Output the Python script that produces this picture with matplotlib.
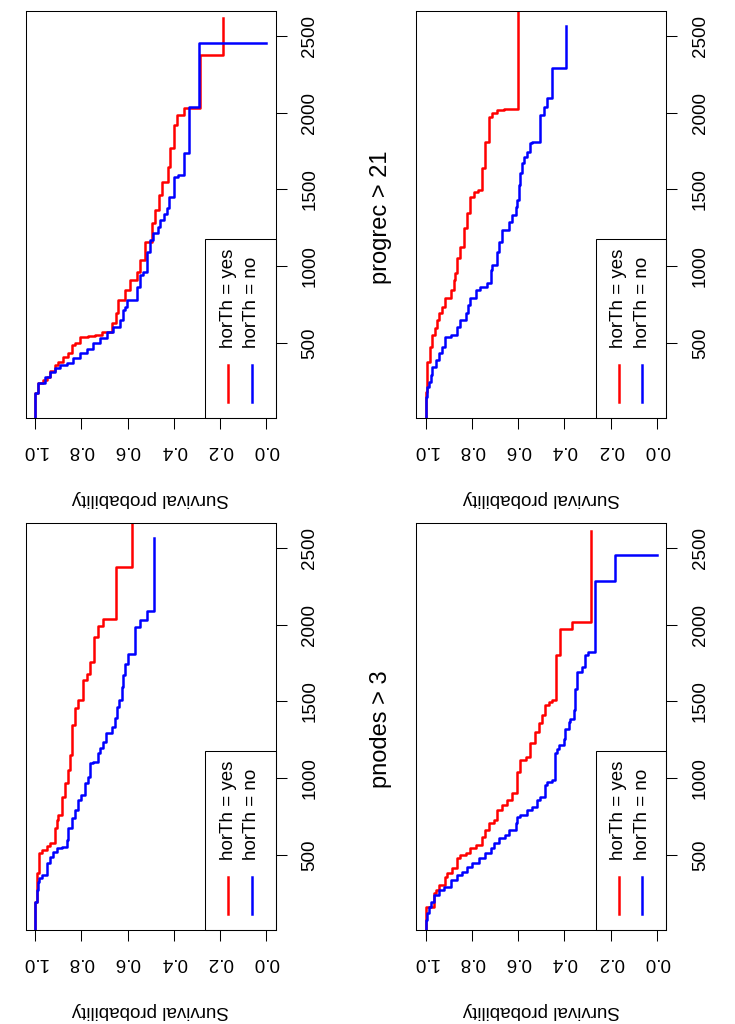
import matplotlib
matplotlib.use('Agg')
from matplotlib import pyplot as plt
from matplotlib.patches import Rectangle

plt.rcParams['font.family'] = ['Liberation Sans', 'DejaVu Sans']

# Kaplan-Meier curves: event times (days) and survival after each
# progrec <= 21
a_yes_t = [0, 175, 240, 262, 283, 320, 359, 381, 413, 435, 489, 504, 543, 549, 554, 576, 630, 695, 781, 846,
           912, 966, 1041, 1161, 1280, 1367, 1464, 1551, 1648, 1768, 1919, 1984, 2028, 2374, 2613]
a_yes_s = [1.0, 0.986, 0.964, 0.950, 0.935, 0.915, 0.899, 0.877, 0.856, 0.841, 0.827, 0.805, 0.769, 0.740, 0.712,
           0.668, 0.650, 0.640, 0.611, 0.589, 0.560, 0.546, 0.524, 0.495, 0.481, 0.466, 0.452, 0.423, 0.416, 0.401,
           0.387, 0.358, 0.286, 0.188, 0.188]
a_no_t = [0, 175, 240, 283, 316, 337, 359, 374, 402, 435, 461, 500, 532, 576, 608, 651, 716, 738, 781, 868,
          944, 966, 1096, 1171, 1215, 1258, 1302, 1340, 1378, 1453, 1583, 1594, 1735, 2038, 2454]
a_no_s = [1.0, 0.986, 0.957, 0.935, 0.914, 0.892, 0.863, 0.834, 0.805, 0.777, 0.748, 0.719, 0.690, 0.661, 0.632,
          0.618, 0.611, 0.603, 0.560, 0.546, 0.532, 0.517, 0.505, 0.488, 0.470, 0.459, 0.444, 0.431, 0.420, 0.401,
          0.380, 0.358, 0.336, 0.293, 0.0]

# progrec > 21
b_yes_t = [0, 186, 381, 478, 554, 600, 651, 695, 738, 792, 846, 912, 955, 1052, 1128, 1247, 1345, 1453, 1486,
           1497, 1638, 1811, 1973, 1995, 2017, 2021, 2656]
b_yes_s = [1.0, 0.993, 0.981, 0.971, 0.961, 0.952, 0.942, 0.928, 0.914, 0.892, 0.878, 0.871, 0.863, 0.849, 0.835,
           0.820, 0.806, 0.791, 0.775, 0.755, 0.741, 0.727, 0.712, 0.691, 0.662, 0.600, 0.600]
b_no_t = [0, 153, 218, 251, 294, 348, 391, 435, 478, 543, 554, 608, 651, 700, 749, 792, 846, 868, 890, 976,
          1009, 1096, 1161, 1236, 1291, 1334, 1388, 1432, 1529, 1605, 1670, 1713, 1746, 1800, 1811, 1984, 2038,
          2093, 2288, 2565]
b_no_s = [1.0, 0.993, 0.986, 0.978, 0.971, 0.957, 0.942, 0.928, 0.914, 0.892, 0.863, 0.849, 0.827, 0.815, 0.806,
          0.784, 0.763, 0.734, 0.719, 0.712, 0.691, 0.683, 0.669, 0.640, 0.626, 0.611, 0.604, 0.597, 0.590, 0.583,
          0.576, 0.561, 0.547, 0.540, 0.504, 0.489, 0.475, 0.453, 0.393, 0.393]

# pnodes <= 3
c_yes_t = [0, 199, 383, 513, 534, 560, 578, 675, 729, 762, 881, 968, 1055, 1152, 1347, 1455, 1508, 1638, 1681,
           1757, 1919, 1990, 2038, 2374, 2656]
c_yes_s = [1.0, 0.993, 0.981, 0.971, 0.950, 0.935, 0.914, 0.906, 0.899, 0.885, 0.871, 0.856, 0.848, 0.838, 0.827,
           0.813, 0.791, 0.776, 0.762, 0.747, 0.726, 0.706, 0.649, 0.582, 0.582]
c_no_t = [0, 199, 275, 329, 350, 372, 448, 491, 524, 545, 556, 599, 675, 740, 795, 860, 892, 968, 1011, 1098,
          1109, 1163, 1195, 1239, 1293, 1336, 1390, 1466, 1508, 1594, 1670, 1746, 1811, 1984, 2028, 2088, 2563]
c_no_s = [1.0, 0.990, 0.985, 0.981, 0.971, 0.950, 0.935, 0.921, 0.906, 0.885, 0.863, 0.856, 0.842, 0.827, 0.813,
          0.799, 0.784, 0.770, 0.763, 0.748, 0.727, 0.719, 0.705, 0.691, 0.669, 0.655, 0.647, 0.636, 0.625, 0.618,
          0.610, 0.596, 0.567, 0.548, 0.517, 0.485, 0.485]

# pnodes > 3
d_yes_t = [0, 166, 253, 274, 307, 361, 383, 415, 480, 502, 513, 545, 567, 621, 664, 708, 729, 794, 827, 859,
           903, 1044, 1120, 1141, 1228, 1304, 1358, 1412, 1477, 1495, 1508, 1800, 1973, 2017, 2608]
d_yes_s = [1.0, 0.964, 0.957, 0.942, 0.914, 0.906, 0.885, 0.863, 0.849, 0.827, 0.806, 0.784, 0.755, 0.741, 0.727,
           0.705, 0.691, 0.669, 0.647, 0.626, 0.604, 0.590, 0.568, 0.547, 0.525, 0.511, 0.496, 0.482, 0.468, 0.453,
           0.435, 0.417, 0.367, 0.285, 0.285]
d_no_t = [0, 80, 123, 166, 199, 242, 274, 296, 340, 372, 394, 426, 448, 480, 513, 545, 578, 610, 632, 664,
          708, 751, 762, 794, 816, 859, 881, 957, 979, 990, 1163, 1193, 1215, 1258, 1323, 1367, 1388, 1443, 1583,
          1692, 1724, 1800, 1822, 2283, 2450]
d_no_s = [1.0, 0.993, 0.986, 0.978, 0.964, 0.942, 0.921, 0.892, 0.863, 0.842, 0.820, 0.799, 0.770, 0.741, 0.719,
          0.705, 0.683, 0.655, 0.640, 0.611, 0.604, 0.590, 0.561, 0.540, 0.518, 0.504, 0.482, 0.475, 0.453, 0.439,
          0.432, 0.424, 0.403, 0.396, 0.381, 0.374, 0.360, 0.353, 0.345, 0.324, 0.309, 0.299, 0.266, 0.180, 0.0]

titles = ['progrec <= 21', 'progrec > 21', 'pnodes <= 3', 'pnodes > 3']
legend_labels = ['horTh = yes', 'horTh = no']
surv_ticks = [0.0, 0.2, 0.4, 0.6, 0.8, 1.0]
time_ticks = [500, 1000, 1500, 2000, 2500]

curves = [(a_yes_t, a_yes_s, a_no_t, a_no_s),
          (b_yes_t, b_yes_s, b_no_t, b_no_s),
          (c_yes_t, c_yes_s, c_no_t, c_no_s),
          (d_yes_t, d_yes_s, d_no_t, d_no_s)]

# the whole page is the R plot turned a quarter turn to the left
fig = plt.figure(figsize=(7.35, 10.24), dpi=100)
lefts = [0.035, 0.5664, 0.035, 0.5664]
bottoms = [0.5915, 0.5915, 0.0915, 0.0915]

for i in range(4):
    ax = fig.add_axes([lefts[i], bottoms[i], 0.34, 0.3978])
    yt, ys, nt, ns = curves[i]
    ax.plot(ys, yt, color='red', lw=1.8, drawstyle='steps-pre')
    ax.plot(ns, nt, color='blue', lw=1.8, drawstyle='steps-pre')
    ax.set_xlim(1.04, -0.04)
    ax.set_ylim(12, 2661)

    ax.set_xticks(surv_ticks)
    ax.set_xticklabels(['%.1f' % v for v in surv_ticks], rotation=180)
    ax.yaxis.tick_right()
    ax.set_yticks(time_ticks)
    ax.set_yticklabels([str(v) for v in time_ticks], rotation=90, va='center')
    ax.tick_params(axis='x', length=7.9, width=0.75, pad=9.5, labelsize=13.5)
    ax.tick_params(axis='y', length=7.9, width=0.75, pad=10.7, labelsize=13.5)
    for sp in ax.spines.values():
        sp.set_linewidth(0.75)

    ax.text(0.5, -0.198, 'Survival probability', rotation=180, ha='center', va='center',
            fontsize=13.5, transform=ax.transAxes)
    ax.text(-0.1414, 0.494, titles[i], rotation=90, ha='center', va='center',
            fontsize=17, transform=ax.transAxes)

    # legend drawn by hand, it has to be turned as well
    ax.add_patch(Rectangle((0.7172, 0), 0.2828, 0.44, transform=ax.transAxes, fill=False,
                           lw=0.75, ec='black', clip_on=False))
    for x, col, lab in [(0.81, 'red', legend_labels[0]), (0.905, 'blue', legend_labels[1])]:
        ax.plot([x, x], [0.04, 0.131], color=col, lw=1.8, transform=ax.transAxes)
        ax.text(x, 0.1726, lab, rotation=90, rotation_mode='anchor', ha='left', va='center',
                fontsize=13.5, transform=ax.transAxes)

fig.savefig('out.png', dpi=100)
